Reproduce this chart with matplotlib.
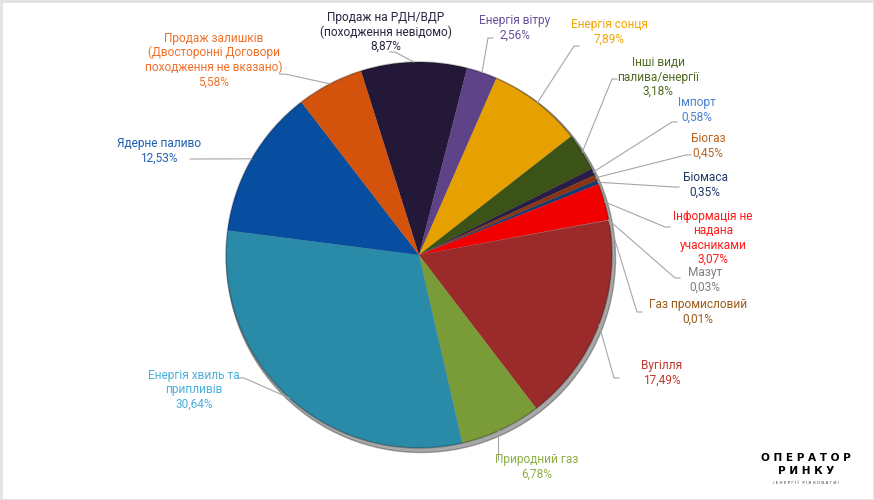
import numpy as np
import matplotlib
matplotlib.use('Agg')
from matplotlib import pyplot as plt
from matplotlib.patches import Circle, Rectangle

# data (share of the total, %)
names = ['Продаж на РДН/ВДР\n(походження невідомо)',
         'Енергія вітру',
         'Енергія сонця',
         'Інші види\nпалива/енергії',
         'Імпорт',
         'Біогаз',
         'Біомаса',
         'Інформація не\nнадана\nучасниками',
         'Мазут',
         'Газ промисловий',
         'Вугілля',
         'Природний газ',
         'Енергія хвиль та\nприпливів',
         'Ядерне паливо',
         'Продаж залишків\n(Двосторонні Договори\nпоходження не вказано)']
shares = [8.87, 2.56, 7.89, 3.18, 0.58, 0.45, 0.35, 3.07, 0.03, 0.01,
          17.49, 6.78, 30.64, 12.53, 5.58]

slice_colors = ['#241838', '#5e4388', '#e6a100', '#3c5317', '#2a1d45',
                '#8a3510', '#163a6e', '#f00000', '#7f7f7f', '#8a4a1a',
                '#9b2b2a', '#7a9c38', '#2a8ba8', '#074ea0', '#d3520c']
label_colors = ['#2e2440', '#6b4f9a', '#f5a500', '#4f6b22', '#4a7fcf',
                '#b8641e', '#1f3864', '#ff1a1a', '#7f7f7f', '#9a5a1a',
                '#c0392b', '#8db043', '#4ab0dc', '#1f5fb0', '#f0702a']

# label block centres and leader start points, in pixels from top-left
label_xy = [(386, 32), (515, 28), (609, 32), (658, 77), (697, 110),
            (708, 146), (705, 185), (713, 238), (705, 280), (698, 312),
            (662, 373), (537, 467), (194, 390), (159, 151), (214, 60)]
leader_xy = [(390, 52), (493, 38), (579, 46), (617, 79), (677, 122),
             (691, 155), (679, 187), (670, 227), (680, 278), (642, 312),
             (619, 378), (498, 460), (239, 378), (190, 159), (280, 74)]

W, H = 874, 500
cx, cy, r = 419, 255, 193
start = 107.5

plt.rcParams['font.family'] = ['Roboto', 'DejaVu Sans']

fig = plt.figure(figsize=(W / 100, H / 100), dpi=100)
ax = fig.add_axes([0, 0, 1, 1])

# soft shadow under the pie
ax.add_patch(Circle((cx + 2, H - cy - 3), r + 1.5, color='#404040', alpha=0.45, zorder=1))

wedges, _ = ax.pie(shares, colors=slice_colors, startangle=start, counterclock=False,
                   center=(cx, H - cy), radius=r, frame=True,
                   wedgeprops=dict(linewidth=0, zorder=2))
for w in wedges:
    w.set_zorder(2)

ax.add_patch(Circle((cx, H - cy), r, fill=False, ec='#00000040', lw=1.2, zorder=3))

cum = np.cumsum([0] + shares[:-1])
for i, name in enumerate(names):
    v = shares[i]
    pct = f'{v:.2f}'.replace('.', ',') + '%'
    tx, ty = label_xy[i]
    ax.text(tx, H - ty, name + '\n' + pct, ha='center', va='center', fontsize=8.6,
            color=label_colors[i], linespacing=1.12, zorder=5)

    ang = np.deg2rad(start - 360 * (cum[i] + v / 2) / 100)
    ex = cx + r * np.cos(ang)
    ey = (H - cy) + r * np.sin(ang)
    lx, ly = leader_xy[i]
    ly = H - ly
    step = 5 if ex > lx else -5
    if i == 11:
        ax.plot([lx, lx], [ly, ey], color='#a6a6a6', lw=0.8, zorder=4)
    else:
        ax.plot([lx, lx + step, ex], [ly, ly, ey], color='#a6a6a6', lw=0.8, zorder=4)

# logo
ax.text(806, H - 458, 'О П Е Р А Т О Р', ha='center', va='center', fontsize=7.6,
        fontweight='bold', color='black', family='DejaVu Sans')
ax.text(806, H - 471, 'Р И Н К У', ha='center', va='center', fontsize=7.6,
        fontweight='bold', color='black', family='DejaVu Sans')
ax.text(806, H - 483, '/ Е Н Е Р Г І Ї   Р І В Н О В А Г И /', ha='center', va='center',
        fontsize=3.0, color='#444444', family='DejaVu Sans')

# light frame
ax.add_patch(Rectangle((0.5, 0.5), W - 1, H - 1, fill=False, ec='#e2e2e2', lw=2, zorder=0))

ax.set_xlim(0, W)
ax.set_ylim(0, H)
ax.set_aspect('equal')
ax.axis('off')

plt.savefig('out.png', dpi=100)
